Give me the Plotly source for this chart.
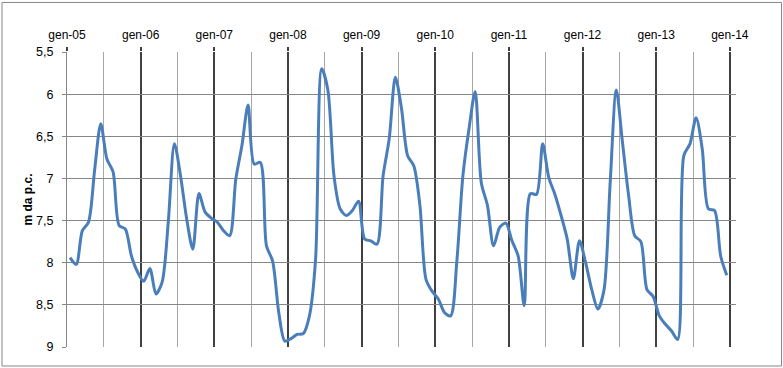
import plotly.graph_objects as go

# Monthly values, Jan-05 .. Dec-13 (m da p.c.)
v2005 = [7.94, 8.02, 7.62, 7.52, 6.90, 6.35, 6.77, 6.92, 7.56, 7.60, 7.92, 8.11]
v2006 = [8.22, 8.07, 8.37, 8.23, 7.52, 6.59, 6.97, 7.48, 7.84, 7.18, 7.40, 7.47]
v2007 = [7.52, 7.62, 7.68, 7.01, 6.61, 6.13, 6.83, 6.81, 7.80, 7.98, 8.59, 8.93]
v2008 = [8.90, 8.85, 8.84, 8.63, 7.96, 5.70, 5.95, 6.97, 7.36, 7.44, 7.38, 7.27]
v2009 = [7.72, 7.74, 7.78, 6.97, 6.53, 5.80, 6.17, 6.73, 6.85, 7.32, 8.20, 8.34]
v2010 = [8.43, 8.59, 8.63, 8.00, 6.97, 6.41, 5.97, 7.05, 7.32, 7.80, 7.58, 7.53]
v2011 = [7.74, 7.92, 8.51, 7.18, 7.19, 6.59, 6.99, 7.19, 7.44, 7.72, 8.19, 7.74]
v2012 = [8.00, 8.32, 8.55, 8.32, 7.05, 5.95, 6.57, 7.20, 7.68, 7.75, 8.32, 8.40]
v2013 = [8.63, 8.73, 8.81, 8.91, 6.73, 6.59, 6.28, 6.65, 7.36, 7.38, 7.92, 8.15]

year_labels = ["gen-05", "gen-06", "gen-07", "gen-08", "gen-09",
               "gen-10", "gen-11", "gen-12", "gen-13", "gen-14"]
y_ticks = [5.5, 6, 6.5, 7, 7.5, 8, 8.5, 9]
y_ticktext = ["5,5", "6", "6,5", "7", "7,5", "8", "8,5", "9"]
y_title = "m da p.c."

values = v2005 + v2006 + v2007 + v2008 + v2009 + v2010 + v2011 + v2012 + v2013
months = [i + 0.5 for i in range(len(values))]   # centred in monthly bands
n_bands = len(values) + 1                          # axis runs to Jan-14 band
major = [12 * k for k in range(len(year_labels))]
minor = [12 * k + 6 for k in range(len(year_labels) - 1)]

fig = go.Figure()
fig.add_trace(go.Scatter(
    x=months, y=values, mode="lines",
    line=dict(color="#4A7EBB", width=3, shape="spline", smoothing=0.8),
    hoverinfo="skip", showlegend=False,
))

font = dict(family="Liberation Sans, Arial, sans-serif", size=12, color="#000000")
yfont = dict(family="Liberation Sans, Arial, sans-serif", size=12.5, color="#000000")

fig.update_layout(
    width=783, height=368,
    margin=dict(l=67, r=47, t=52, b=21),
    paper_bgcolor="#FFFFFF", plot_bgcolor="#FFFFFF",
    font=font,
    xaxis=dict(
        side="top", range=[0, n_bands],
        tickmode="array", tickvals=major, ticktext=year_labels,
        ticks="outside", ticklen=4, tickcolor="#404040", tickwidth=2,
        ticklabelstandoff=3,
        showgrid=True, gridcolor="#404040", gridwidth=2,
        minor=dict(tickmode="array", tickvals=minor, showgrid=True,
                   gridcolor="#A6A6A6", gridwidth=1, ticks=""),
        showline=False, zeroline=False, tickfont=font,
    ),
    yaxis=dict(
        range=[9, 5.5], tickmode="array", tickvals=y_ticks, ticktext=y_ticktext,
        ticks="outside", ticklen=4, tickcolor="#868686",
        showgrid=True, gridcolor="#868686", gridwidth=1,
        showline=True, linecolor="#868686", linewidth=1,
        zeroline=False, tickfont=yfont, ticklabelstandoff=6,
        title=dict(text="<b>" + y_title + "</b>", font=font, standoff=0),
    ),
    shapes=[dict(type="rect", xref="paper", yref="paper",
                 x0=-0.0972, x1=1.068, y0=-0.0644, y1=1.168,
                 line=dict(color="#868686", width=1), layer="below")],
)

fig.write_html("out.html")
